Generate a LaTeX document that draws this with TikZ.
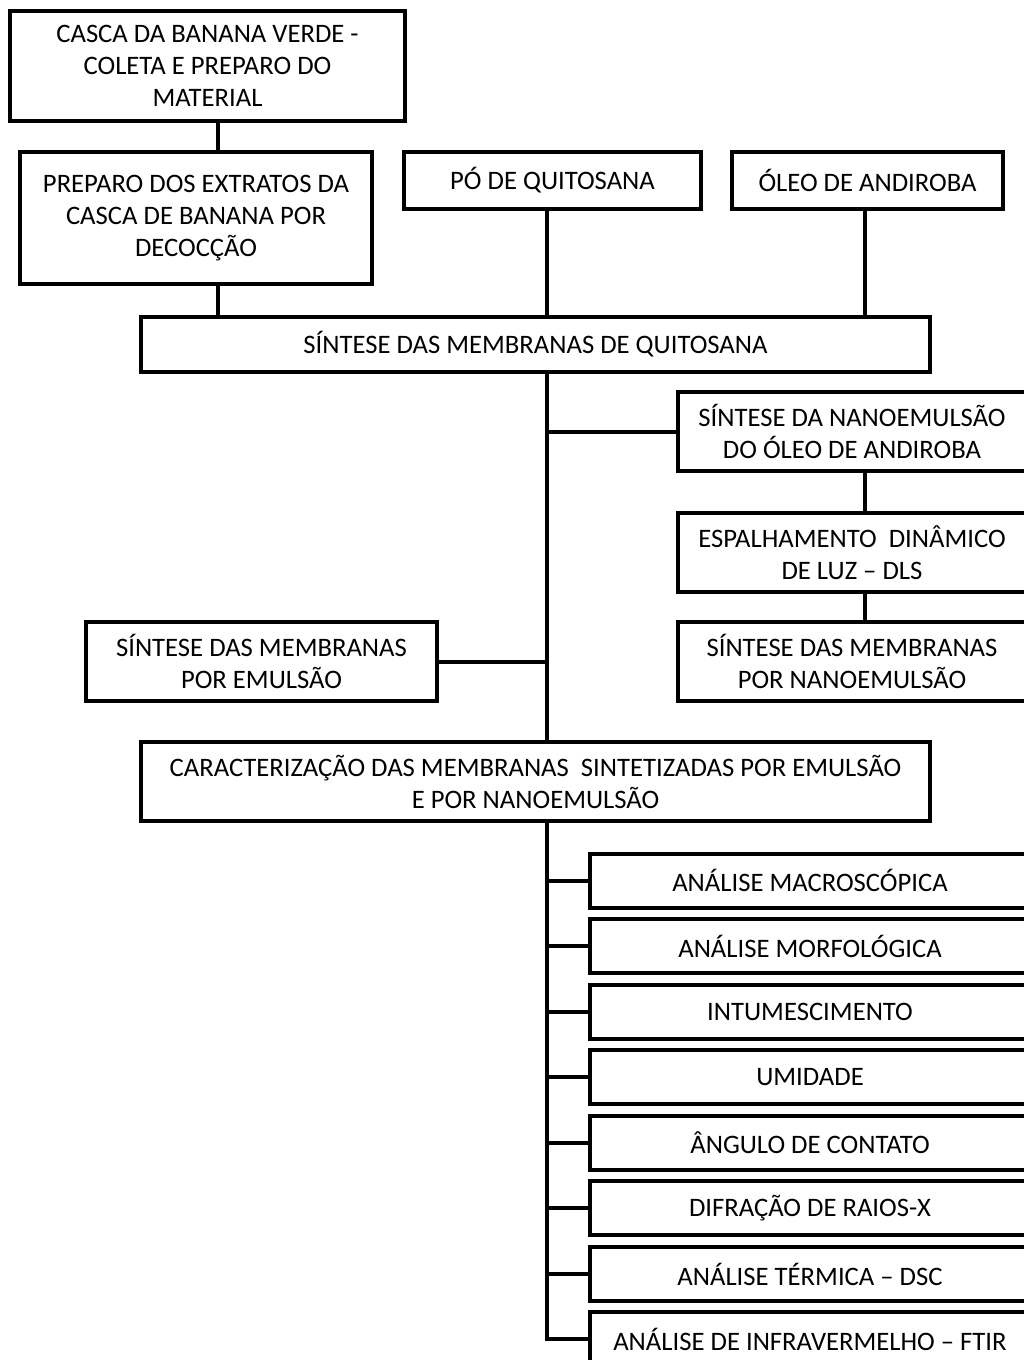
\documentclass[tikz,border=0pt]{standalone}
\usepackage{fontspec}
\setmainfont{Carlito}
\begin{document}
\begin{tikzpicture}[x=0.75pt,y=-0.75pt,
  box/.style={draw=black,line width=3pt,inner sep=0pt,align=center,
    font=\fontsize{20}{24}\selectfont},
  conn/.style={draw=black,line width=3pt}]
\useasboundingbox (0,0) rectangle (1024,1360);
% top
\node[box,minimum width=296.25pt,minimum height=82.5pt] (casca) at (207.5,66)
  {CASCA DA BANANA VERDE -\\COLETA E PREPARO DO\\MATERIAL};
\node[box,minimum width=264pt,minimum height=99pt] (prep) at (196,218)
  {PREPARO DOS EXTRATOS DA\\CASCA DE BANANA POR\\DECOCÇÃO};
\node[box,minimum width=222.75pt,minimum height=42.75pt] (po) at (552.5,180.5)
  {PÓ DE QUITOSANA};
\node[box,minimum width=203.25pt,minimum height=42.75pt] (oleo) at (867.5,180.5)
  {ÓLEO DE ANDIROBA};
\node[box,minimum width=591.75pt,minimum height=41.25pt] (sq) at (535.5,344.5)
  {SÍNTESE DAS MEMBRANAS DE QUITOSANA};
% middle
\node[box,minimum width=261pt,minimum height=59.25pt] (nano) at (852,431.5)
  {SÍNTESE DA NANOEMULSÃO\\DO ÓLEO DE ANDIROBA};
\node[box,minimum width=261pt,minimum height=59.25pt] (esp) at (852,552.5)
  {ESPALHAMENTO\ \ DINÂMICO\\DE LUZ – DLS};
\node[box,minimum width=261pt,minimum height=59.25pt] (snm) at (852,661.5)
  {SÍNTESE DAS MEMBRANAS\\POR NANOEMULSÃO};
\node[box,minimum width=263.25pt,minimum height=59.25pt] (emu) at (261.5,661.5)
  {SÍNTESE DAS MEMBRANAS\\POR EMULSÃO};
\node[box,minimum width=591.75pt,minimum height=59.25pt] (car) at (535.5,781.5)
  {CARACTERIZAÇÃO DAS MEMBRANAS\ \ SINTETIZADAS POR EMULSÃO\\E POR NANOEMULSÃO};
% list
\tikzset{lbox/.style={box,minimum width=330pt,minimum height=40.5pt}}
\node[lbox] (l1) at (810,880.5) {ANÁLISE MACROSCÓPICA};
\node[lbox] (l2) at (810,946) {ANÁLISE MORFOLÓGICA};
\node[lbox] (l3) at (810,1012) {INTUMESCIMENTO};
\node[lbox] (l4) at (810,1077) {UMIDADE};
\node[lbox] (l5) at (810,1143) {ÂNGULO DE CONTATO};
\node[lbox] (l6) at (810,1208) {DIFRAÇÃO DE RAIOS-X};
\node[lbox] (l7) at (810,1274) {ANÁLISE TÉRMICA – DSC};
\node[lbox] (l8) at (810,1339) {ANÁLISE DE INFRAVERMELHO – FTIR};
% helper coordinates
\coordinate (xa) at (218,0);
\coordinate (tx) at (547,0);
\coordinate (xr) at (865,0);
% connectors
\draw[conn] (casca.south -| xa) -- (prep.north -| xa);
\draw[conn] (prep.south -| xa) -- (sq.north -| xa);
\draw[conn] (po.south -| tx) -- (sq.north -| tx);
\draw[conn] (oleo.south -| xr) -- (sq.north -| xr);
\draw[conn] (sq.south -| tx) -- (car.north -| tx);
\draw[conn] (nano.west) -- (nano.west -| tx);
\draw[conn] (emu.east) -- (emu.east -| tx);
\draw[conn] (nano.south -| xr) -- (esp.north -| xr);
\draw[conn] (esp.south -| xr) -- (snm.north -| xr);
\draw[conn] (car.south -| tx) |- (l8.west);
\foreach \n in {l1,l2,l3,l4,l5,l6,l7}
  \draw[conn] (\n.west) -- (\n.west -| tx);
\end{tikzpicture}
\end{document}
